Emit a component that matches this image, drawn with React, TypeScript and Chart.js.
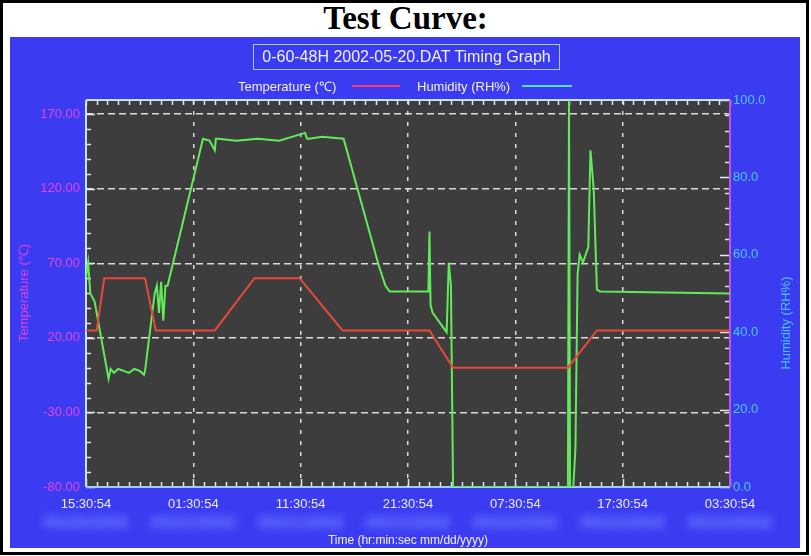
import React, { useEffect, useRef } from 'react';
import { Chart, registerables } from 'chart.js';

Chart.register(...registerables);

// ---- data ----
const timeLabels = ['15:30:54', '01:30:54', '11:30:54', '21:30:54', '07:30:54', '17:30:54', '03:30:54'];
const dateLabels = ['05/20/2002', '05/21/2002', '05/21/2002', '05/21/2002', '05/22/2002', '05/22/2002', '05/23/2002'];
const tempTicks = [-80, -30, 20, 70, 120, 170];

const tempHours = [0, 1.0, 1.7, 5.5, 6.5, 12.0, 15.7, 19.9, 23.9, 32.0, 34.2, 44.9, 47.6, 60];
const tempValues = [25, 25, 60, 60, 25, 25, 60, 60, 25, 25, 0, 0, 25, 25];

const humHours = [
  0, 0.2, 0.4, 0.8, 2.1, 2.3, 2.6, 3.0, 3.5, 4.0, 4.5, 5.0, 5.4, 5.5,
  6.4, 6.6, 6.8, 7.0, 7.2, 7.4, 7.6, 10.9, 11.5, 12.0, 12.1, 12.3, 14.0, 16.0, 18.0,
  20.4, 20.6, 20.8, 22.0, 24.0, 27.3, 27.9, 28.3, 31.9, 32.0, 32.1, 32.3, 33.6, 33.8,
  34.0, 34.2, 44.9, 45.0, 45.1, 45.4, 45.6, 45.8, 46.0, 46.3, 46.8, 47.0, 47.3, 47.6, 47.9, 60,
];
const humValues = [
  54, 58, 50, 48, 28, 30.5, 29.5, 30.5, 30, 29.5, 30.5, 30, 29, 30,
  50, 52, 45, 53, 43, 52, 52, 90, 89.5, 87, 90, 90, 89.5, 90, 89.5,
  91.5, 90, 90, 90.5, 90, 57, 52, 50.5, 50.5, 66, 47, 45, 40, 58,
  52, 0, 0, 100, 0, 0, 10, 55, 60, 58, 62, 87, 77, 51, 50.5, 50,
];

const FONT = '"Liberation Sans", Arial, sans-serif';

const framePlugin = {
  id: 'frame',
  beforeDraw(chart: any) {
    const { ctx, chartArea: a } = chart;
    ctx.save();
    ctx.fillStyle = '#3d3d3d';
    ctx.fillRect(a.left, a.top, a.right - a.left, a.bottom - a.top);
    ctx.restore();
  },
  beforeDatasetsDraw(chart: any) {
    const { ctx, chartArea: a, scales } = chart;
    const xs = scales.x, ys = scales.y, y1 = scales.y1;
    ctx.save();
    ctx.lineWidth = 1.5;
    ctx.strokeStyle = '#e8e8f0';
    for (let h = 0; h <= 60; h += 1) {
      const px = Math.round(xs.getPixelForValue(h)) + 0.5;
      const len = h % 10 === 0 ? 8 : 5;
      ctx.beginPath();
      ctx.moveTo(px, a.bottom);
      ctx.lineTo(px, a.bottom - len);
      ctx.moveTo(px, a.top);
      ctx.lineTo(px, a.top + 5);
      ctx.stroke();
    }
    for (let v = -80; v <= 170; v += 10) {
      const py = Math.round(ys.getPixelForValue(v)) + 0.5;
      const len = (v + 80) % 50 === 0 ? 9 : 5;
      ctx.beginPath();
      ctx.moveTo(a.left, py);
      ctx.lineTo(a.left + len, py);
      ctx.stroke();
    }
    for (let v = 0; v <= 100; v += 4) {
      const py = Math.round(y1.getPixelForValue(v)) + 0.5;
      const len = v % 20 === 0 ? 10 : 5;
      ctx.beginPath();
      ctx.moveTo(a.right, py);
      ctx.lineTo(a.right - len, py);
      ctx.stroke();
    }
    ctx.lineWidth = 2;
    ctx.strokeStyle = '#c8e2ff';
    ctx.beginPath();
    ctx.moveTo(a.left, a.top);
    ctx.lineTo(a.right, a.top);
    ctx.moveTo(a.left, a.top);
    ctx.lineTo(a.left, a.bottom);
    ctx.stroke();
    ctx.strokeStyle = '#9fd0ff';
    ctx.beginPath();
    ctx.moveTo(a.left, a.bottom);
    ctx.lineTo(a.right, a.bottom);
    ctx.stroke();
    ctx.strokeStyle = '#c050f0';
    ctx.beginPath();
    ctx.moveTo(a.right, a.top);
    ctx.lineTo(a.right, a.bottom);
    ctx.stroke();
    ctx.restore();
  },
  afterDraw(chart: any) {
    const { ctx, chartArea: a, scales } = chart;
    const xs = scales.x;
    ctx.save();
    ctx.font = '13px ' + FONT;
    ctx.textAlign = 'center';
    ctx.textBaseline = 'middle';
    ctx.fillStyle = '#e040e0';
    ctx.save();
    ctx.translate(14, 256);
    ctx.rotate(-Math.PI / 2);
    ctx.fillText('Temperature (\u2103)', 0, 0);
    ctx.restore();
    ctx.fillStyle = '#48c4ff';
    ctx.save();
    ctx.translate(776, 286);
    ctx.rotate(-Math.PI / 2);
    ctx.fillText('Humidity (RH%)', 0, 0);
    ctx.restore();
    // blurred date row
    ctx.save();
    ctx.filter = 'blur(4px)';
    ctx.fillStyle = 'rgba(120,135,255,0.95)';
    ctx.font = 'bold 17px ' + FONT;
    dateLabels.forEach((d, i) => {
      ctx.fillText(d, xs.getPixelForValue(i * 10), a.bottom + 36);
    });
    ctx.restore();
    ctx.fillStyle = '#f0f0ff';
    ctx.font = '12px ' + FONT;
    ctx.fillText('Time (hr:min:sec mm/dd/yyyy)', (a.left + a.right) / 2, 504);
    ctx.restore();
  },
};

export default function App() {
  const ref = useRef<HTMLCanvasElement | null>(null);

  useEffect(() => {
    if (!ref.current) return;
    const chart = new Chart(ref.current, {
      type: 'line',
      data: {
        datasets: [
          {
            label: 'Temperature (\u2103)',
            data: tempHours.map((h, i) => ({ x: h, y: tempValues[i] })),
            yAxisID: 'y',
            borderColor: '#e8473c',
            borderWidth: 2,
            pointRadius: 0,
            tension: 0,
          },
          {
            label: 'Humidity (RH%)',
            data: humHours.map((h, i) => ({ x: h, y: humValues[i] })),
            yAxisID: 'y1',
            borderColor: '#62ea5a',
            borderWidth: 2,
            pointRadius: 0,
            tension: 0,
          },
        ],
      },
      options: {
        animation: false,
        responsive: false,
        devicePixelRatio: 1,
        layout: { padding: { top: 63, left: 0, right: 0, bottom: 0 } },
        plugins: {
          legend: { display: false },
          title: { display: false },
          tooltip: { enabled: false },
        },
        scales: {
          x: {
            type: 'linear',
            position: 'bottom',
            min: 0,
            max: 60,
            ticks: {
              stepSize: 10,
              autoSkip: false,
              maxRotation: 0,
              color: '#ececff',
              padding: 10,
              font: { family: FONT, size: 13 },
              callback: (v: any) => timeLabels[Math.round(Number(v) / 10)] ?? '',
            },
            grid: {
              color: (c: any) =>
                c.tick && (c.tick.value === 0 || c.tick.value === 60) ? 'rgba(0,0,0,0)' : 'rgba(235,235,235,0.9)',
              lineWidth: 1.5,
              drawTicks: false,
            },
            border: { display: false, dash: [4, 7] },
            afterFit: (s: any) => {
              s.height = 61;
            },
          },
          y: {
            type: 'linear',
            position: 'left',
            min: -80,
            max: 179.5,
            afterBuildTicks: (s: any) => {
              s.ticks = tempTicks.map((v) => ({ value: v }));
            },
            ticks: {
              color: '#e545e5',
              padding: 6,
              font: { family: FONT, size: 13 },
              callback: (v: any) => Number(v).toFixed(2),
            },
            grid: {
              color: (c: any) => (c.tick && c.tick.value === -80 ? 'rgba(0,0,0,0)' : 'rgba(235,235,235,0.9)'),
              lineWidth: 1.5,
              drawTicks: false,
            },
            border: { display: false, dash: [7, 4] },
            afterFit: (s: any) => {
              s.width = 76;
            },
          },
          y1: {
            type: 'linear',
            position: 'right',
            min: 0,
            max: 100,
            ticks: {
              stepSize: 20,
              color: '#4cc8ff',
              padding: 3,
              font: { family: FONT, size: 13 },
              callback: (v: any) => Number(v).toFixed(1),
            },
            grid: { display: false, drawOnChartArea: false, drawTicks: false },
            border: { display: false },
            afterFit: (s: any) => {
              s.width = 70;
            },
          },
        },
      },
      plugins: [framePlugin],
    } as any);
    return () => chart.destroy();
  }, []);

  return (
    <div style={{ position: 'absolute', left: 0, top: 0, width: 811, height: 556, background: '#fff', overflow: 'hidden' }}>
      <div style={{ position: 'absolute', left: 0, top: 0, width: 803, height: 549, border: '3px solid #000' }} />
      <div
        style={{
          position: 'absolute',
          left: 0,
          top: 0,
          width: 811,
          textAlign: 'center',
          font: 'bold 33px "Liberation Serif", "Times New Roman", serif',
          color: '#000',
        }}
      >
        Test Curve:
      </div>
      <div style={{ position: 'absolute', left: 10, top: 37, width: 790, height: 511, background: '#3b3bf2' }}>
        <canvas ref={ref} width={790} height={511} style={{ display: 'block', width: 790, height: 511 }} />
        <div
          style={{
            position: 'absolute',
            left: 243,
            top: 7,
            width: 307,
            height: 26,
            border: '1px solid #a8c8ff',
            boxSizing: 'border-box',
            color: '#f2f2ff',
            font: '16px ' + FONT,
            lineHeight: '24px',
            textAlign: 'center',
            whiteSpace: 'nowrap',
          }}
        >
          0-60-48H 2002-05-20.DAT Timing Graph
        </div>
        <div style={{ position: 'absolute', left: 228, top: 42, color: '#f0f0ff', font: '13px ' + FONT, lineHeight: '15px', whiteSpace: 'nowrap' }}>
          Temperature (℃)
        </div>
        <div style={{ position: 'absolute', left: 342, top: 48, width: 48, height: 2, background: '#ff3a6a' }} />
        <div style={{ position: 'absolute', left: 407, top: 42, color: '#f0f0ff', font: '13px ' + FONT, lineHeight: '15px', whiteSpace: 'nowrap' }}>
          Humidity (RH%)
        </div>
        <div style={{ position: 'absolute', left: 512, top: 48, width: 50, height: 2, background: '#48e6ff' }} />
      </div>
    </div>
  );
}
